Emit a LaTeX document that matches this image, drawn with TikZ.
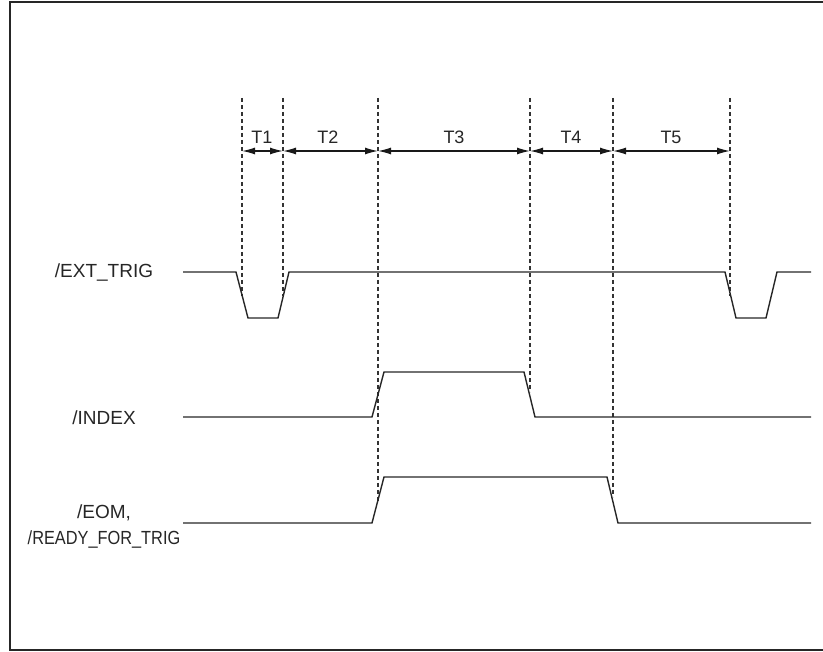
\documentclass[tikz,border=0pt]{standalone}
\usepackage{fontspec}
\setmainfont{Liberation Sans}
\usepackage{graphicx}
\usetikzlibrary{arrows.meta}

\begin{document}
\begin{tikzpicture}[x=1pt, y=-1pt,
  sig/.style={line width=1.4pt, black!85},
  guide/.style={line width=1.3pt, black!80, dash pattern=on 4pt off 3pt},
  dim/.style={{Latex[length=13pt,width=7pt]}-{Latex[length=13pt,width=7pt]}, line width=1.3pt, black!90},
  lbl/.style={font=\fontsize{19}{26}\selectfont, align=center, inner sep=0pt, text=black!85},
  tlbl/.style={font=\fontsize{18}{20}\selectfont, inner sep=0pt, text=black!85}
]
  \useasboundingbox (0,0) rectangle (823,652);
  \draw[line width=2.5pt, black!85] (823,2) -- (10,2) -- (10,650) -- (823,650);

  % timing guides
  \foreach \x/\yb [count=\i from 0] in {242/296, 283/296, 378/503, 530/392, 613/497, 730/296} {
    \coordinate (g\i) at (\x,151);
    \draw[guide] (\x,98) -- (\x,\yb);
  }
  \foreach \i/\j/\t/\tx in {0/1/T1/262, 1/2/T2/328, 2/3/T3/454, 3/4/T4/571, 4/5/T5/671} {
    \draw[dim] (g\i) -- (g\j);
    \node[tlbl] (lab\t) at (\tx,137) {\t};
  }

  % signal names
  \node[lbl] (ext) at (104,273) {/EXT\_TRIG};
  \node[lbl] (idx) at (104,418) {/INDEX};
  \node[lbl] (eom) at (104,527) {/EOM,\\\scalebox{0.86}[1]{/READY\_FOR\_TRIG}};

  % waveforms
  \draw[sig] (183,272) -- (236,272) -- (248,318) -- (278,318) -- (289,272) -- (725,272)
    -- (736,318) -- (766,318) -- (777,272) -- (811,272);
  \draw[sig] (183,417) -- (372,417) -- (384,372) -- (524,372) -- (535,417) -- (811,417);
  \draw[sig] (183,523) -- (372,523) -- (384,477) -- (607,477) -- (618,523) -- (811,523);
\end{tikzpicture}
\end{document}
